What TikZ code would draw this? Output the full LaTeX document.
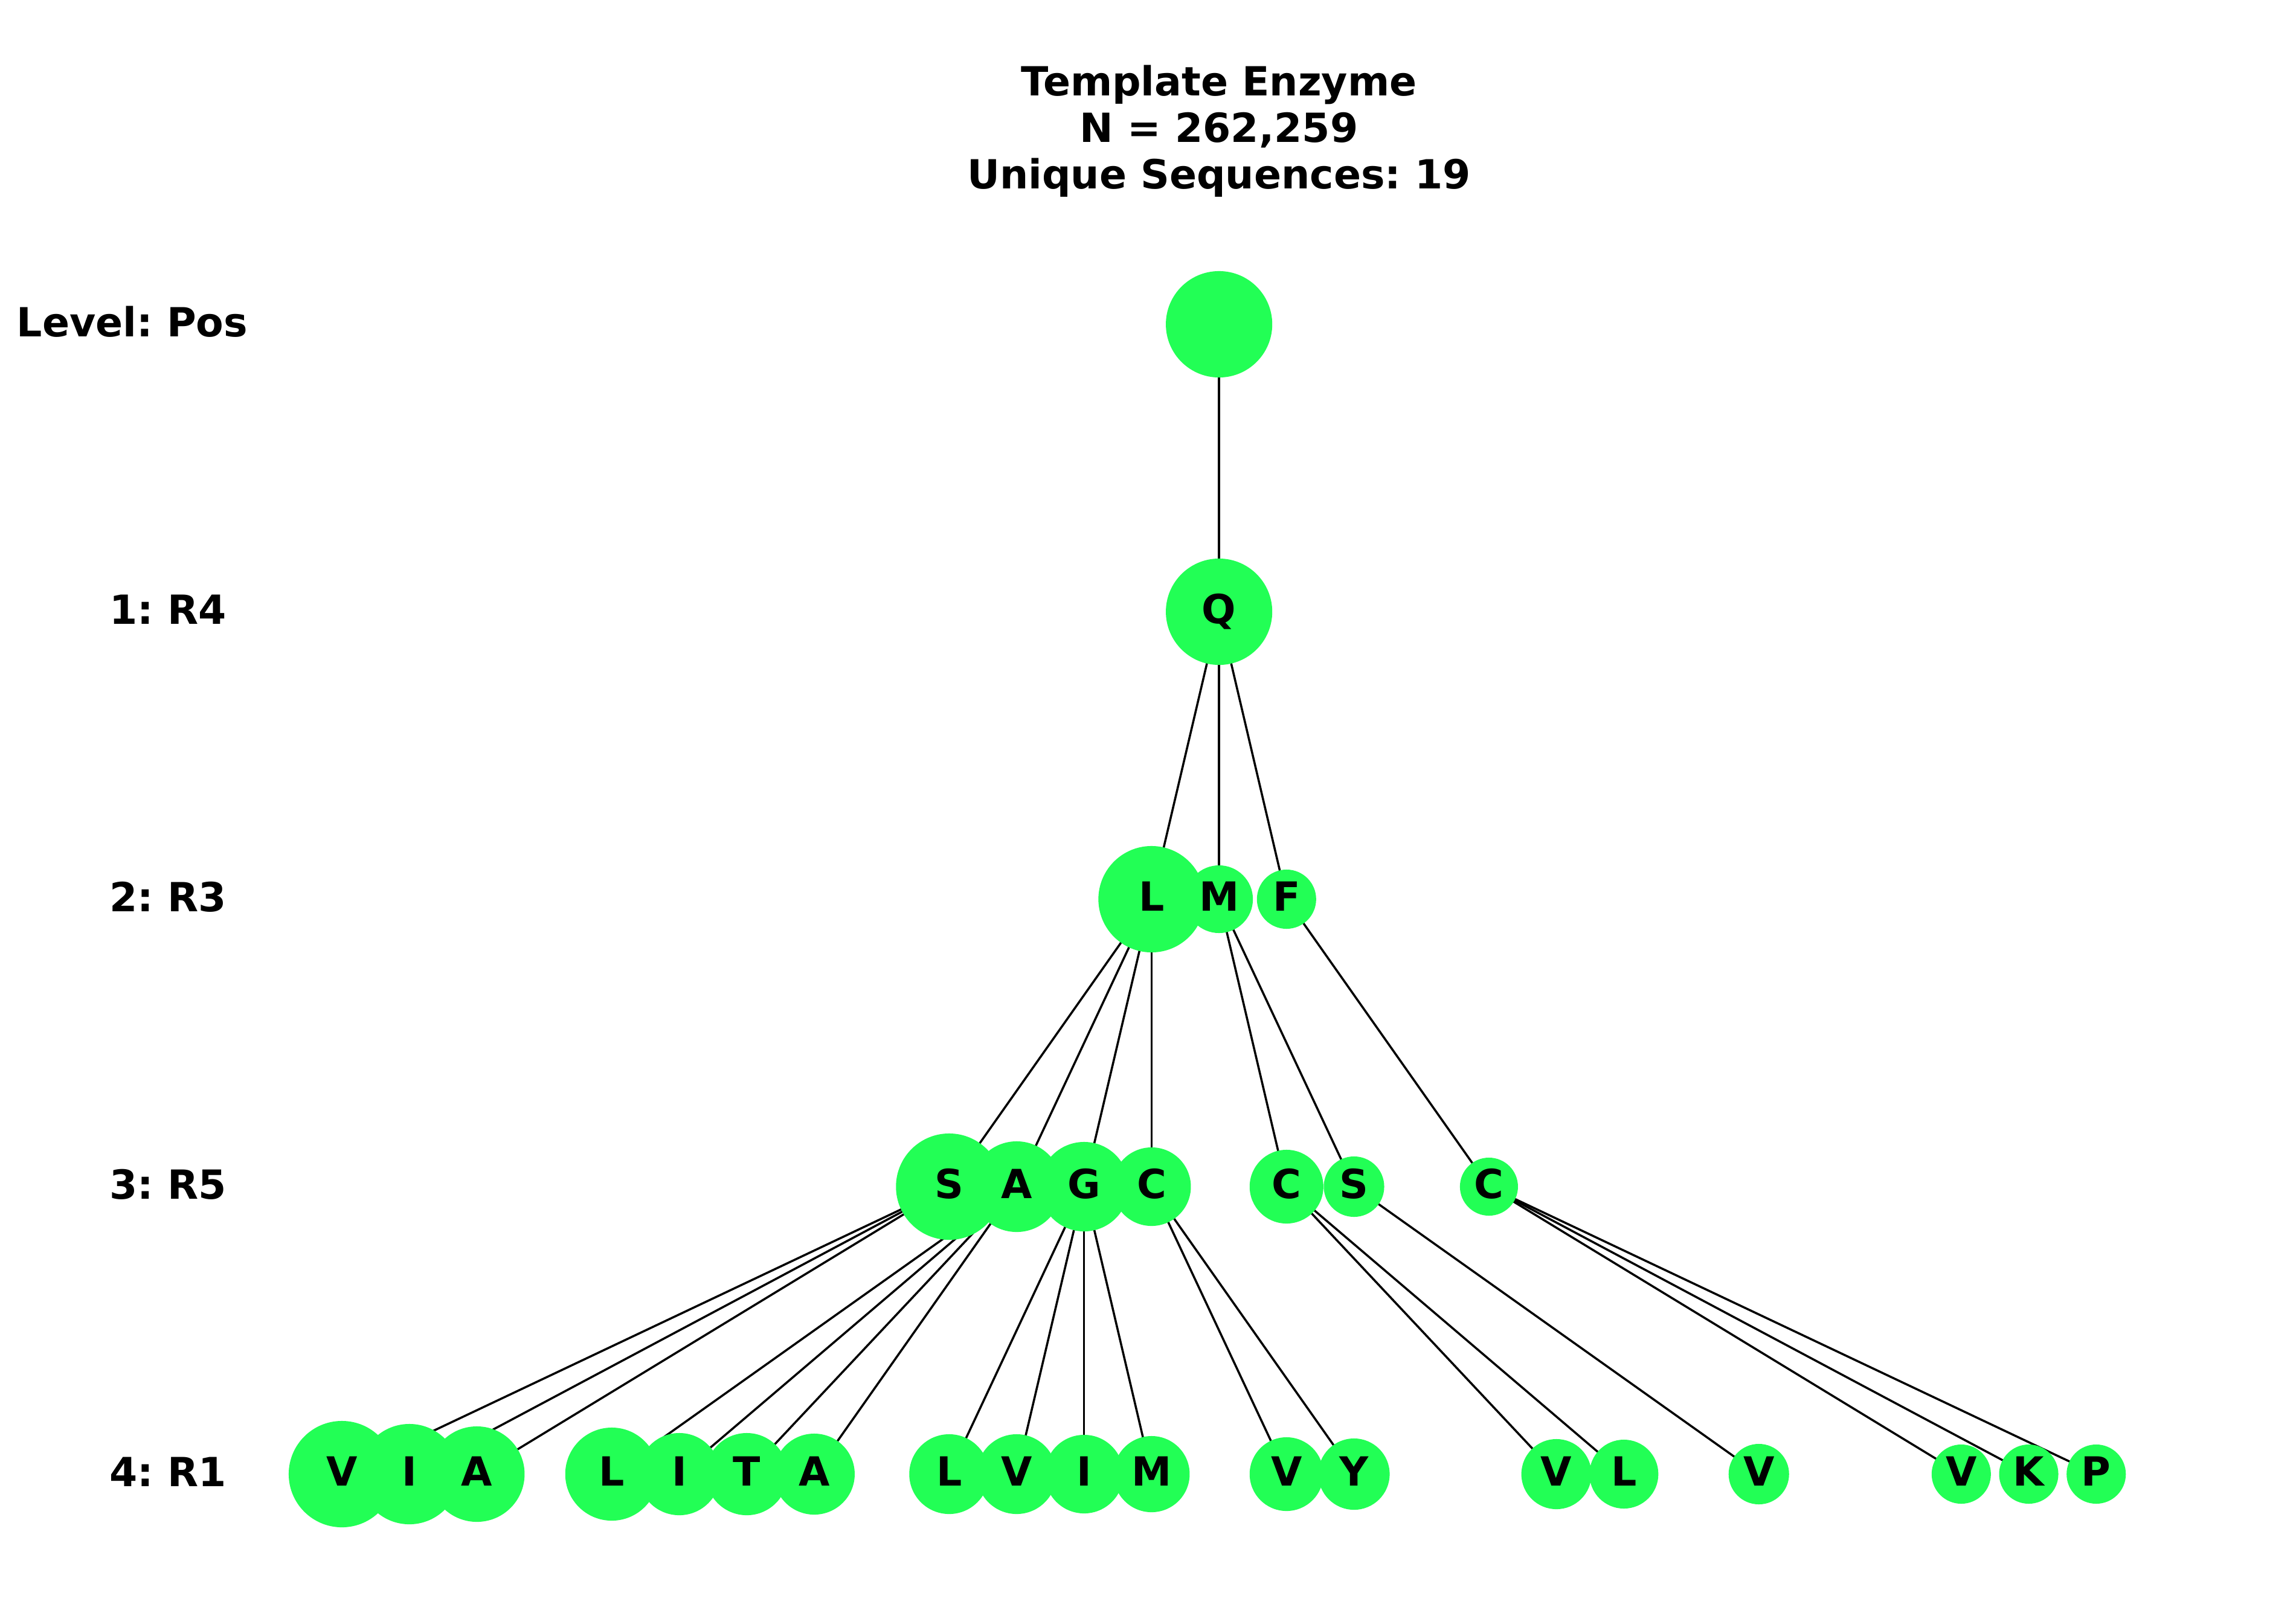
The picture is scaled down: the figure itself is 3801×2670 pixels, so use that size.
\documentclass[tikz,border=0pt]{standalone}
\usepackage{fontspec}
\setmainfont{DejaVu Sans}
\usetikzlibrary{backgrounds}
\definecolor{ngreen}{RGB}{34,255,85}
\frenchspacing
\begin{document}
\begin{tikzpicture}[x=0.01cm,y=-0.01cm,
  nd/.style={circle,fill=ngreen,inner sep=0pt,minimum size=#1*0.02cm,
    text height=0.5cm,text depth=0.11cm,
    font=\fontsize{18.9pt}{22pt}\selectfont\bfseries},
  lvl/.style={anchor=base west,inner sep=0pt,font=\fontsize{18.9pt}{22pt}\selectfont\bfseries},
  edge/.style={draw=black,line width=1pt}]
\useasboundingbox (0,0) rectangle (3801,2670);

% title
\node[anchor=base,inner sep=0pt,align=center,font=\fontsize{18.9pt}{21.9pt}\selectfont\bfseries]
  (title) at (2018,313) {Template Enzyme\\N = 262,259\\Unique Sequences: 19};

% level labels
\node[lvl] (lv0) at (27,557) {Level: Pos};
\node[lvl] (lv1) at (181,1033) {1: R4};
\node[lvl] (lv2) at (181,1509) {2: R3};
\node[lvl] (lv3) at (181,1985) {3: R5};
\node[lvl] (lv4) at (181,2461) {4: R1};

% level 0 and 1
\node[nd=88] (root) at (2018.1,537) {};
\node[nd=88] (q) at (2018.1,1013) {Q};

% level 2
\node[nd=88] (bL) at (1906.4,1489) {L};
\node[nd=56] (bM) at (2018.1,1489) {M};
\node[nd=49] (bF) at (2129.8,1489) {F};

% level 3
\node[nd=88] (cS) at (1571.3,1965) {S};
\node[nd=75] (cA) at (1683,1965) {A};
\node[nd=74] (cG) at (1794.7,1965) {G};
\node[nd=65] (cC) at (1906.4,1965) {C};
\node[nd=61] (cC2) at (2129.8,1965) {C};
\node[nd=50] (cS2) at (2241.5,1965) {S};
\node[nd=48] (cC3) at (2464.9,1965) {C};

% level 4
\node[nd=88] (d0) at (566,2441) {V};
\node[nd=83] (d1) at (677.7,2441) {I};
\node[nd=79] (d2) at (789.4,2441) {A};
\node[nd=77] (d4) at (1012.8,2441) {L};
\node[nd=68] (d5) at (1124.5,2441) {I};
\node[nd=68] (d6) at (1236.2,2441) {T};
\node[nd=67] (d7) at (1347.9,2441) {A};
\node[nd=66] (d9) at (1571.3,2441) {L};
\node[nd=66] (d10) at (1683,2441) {V};
\node[nd=65] (d11) at (1794.7,2441) {I};
\node[nd=63] (d12) at (1906.4,2441) {M};
\node[nd=61] (d14) at (2129.8,2441) {V};
\node[nd=59] (d15) at (2241.5,2441) {Y};
\node[nd=58] (d18) at (2576.6,2441) {V};
\node[nd=57] (d19) at (2688.3,2441) {L};
\node[nd=50] (d21) at (2911.7,2441) {V};
\node[nd=49] (d24) at (3246.8,2441) {V};
\node[nd=49] (d25) at (3358.5,2441) {K};
\node[nd=49] (d26) at (3470.2,2441) {P};

\begin{pgfonlayer}{background}
\draw[edge] (root.center) -- (q.center);
\foreach \c in {bL,bM,bF} \draw[edge] (q.center) -- (\c.center);
\foreach \c in {cS,cA,cG,cC} \draw[edge] (bL.center) -- (\c.center);
\foreach \c in {cC2,cS2} \draw[edge] (bM.center) -- (\c.center);
\draw[edge] (bF.center) -- (cC3.center);
\foreach \c in {d0,d1,d2} \draw[edge] (cS.center) -- (\c.center);
\foreach \c in {d4,d5,d6,d7} \draw[edge] (cA.center) -- (\c.center);
\foreach \c in {d9,d10,d11,d12} \draw[edge] (cG.center) -- (\c.center);
\foreach \c in {d14,d15} \draw[edge] (cC.center) -- (\c.center);
\foreach \c in {d18,d19} \draw[edge] (cC2.center) -- (\c.center);
\draw[edge] (cS2.center) -- (d21.center);
\foreach \c in {d24,d25,d26} \draw[edge] (cC3.center) -- (\c.center);
\end{pgfonlayer}
\end{tikzpicture}
\end{document}
